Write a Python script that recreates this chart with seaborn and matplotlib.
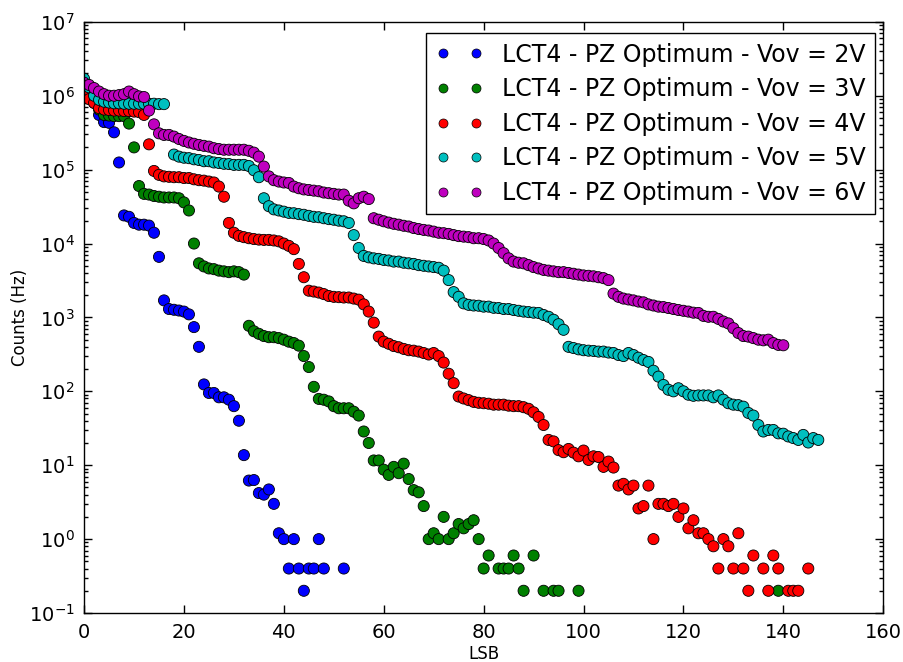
import numpy as np
import pandas as pd
import seaborn as sns
import matplotlib.pyplot as plt
from matplotlib.lines import Line2D

# counts (Hz) per LSB threshold, index = LSB; None = no count recorded
counts_2v = [1.2e6, 1.0e6, 8.0e5, 5.5e5, 4.4e5, 4.3e5, 3.2e5, 1.25e5, 2.4e4, 2.3e4,
             1.9e4, 1.8e4, 1.8e4, 1.75e4, 1.4e4, 6.6e3, 1.7e3, 1.3e3, 1.27e3, 1.24e3,
             1.2e3, 1.1e3, 740, 400, 124, 95, 95, 83, 83, 77,
             63, 40, 13.7, 6.2, 6.3, 4.2, 4.0, 4.7, 3.0, 1.2,
             1.0, 0.4, 1.0, 0.4, 0.2, 0.4, 0.4, 1.0, 0.4]
tail_lsb_2v = [52]
tail_counts_2v = [0.4]

counts_3v = [1.2e6, 1.0e6, 8.5e5, 6.5e5, 5.5e5, 5.4e5, 5.3e5, 5.3e5, 5.3e5, 4.2e5,
             2.0e5, 6.0e4, 4.7e4, 4.6e4, 4.4e4, 4.3e4, 4.2e4, 4.2e4, 4.2e4, 4.1e4,
             3.6e4, 2.8e4, 1.0e4, 5.4e3, 4.9e3, 4.6e3, 4.5e3, 4.3e3, 4.2e3, 4.1e3,
             4.2e3, 4.1e3, 3.8e3, 770, 650, 600, 560, 540, 540, 525,
             500, 470, 450, 415, 300, 213, 115, 79, 77, 73,
             63, 59, 59, 59, 53, 47, 28.6, 20, 11.6, 11.6,
             8.7, 7.4, 9.5, 7.8, 10.5, 6.5, 4.6, 4.3, 2.8, 1.0,
             1.2, 1.0, 2.0, 1.0, 1.2, 1.6, 1.4, 1.6, 1.8, 1.0,
             0.4, 0.6]
tail_lsb_3v = [83, 84, 85, 86, 87, 88, 90, 92, 94, 95, 99, 139]
tail_counts_3v = [0.4, 0.4, 0.4, 0.6, 0.4, 0.2, 0.6, 0.2, 0.2, 0.2, 0.2, 0.2]

counts_4v = [1.05e6, 9.0e5, 8.0e5, 6.8e5, 6.5e5, 6.4e5, 6.3e5, 6.3e5, 6.2e5, 6.2e5,
             6.1e5, 6.0e5, 5.5e5, 2.2e5, 9.6e4, 8.5e4, 8.1e4, 8.0e4, 7.9e4, 7.9e4,
             7.7e4, 7.7e4, 7.4e4, 7.2e4, 7.1e4, 6.9e4, 6.7e4, 5.9e4, 4.3e4, 1.9e4,
             1.4e4, 1.27e4, 1.22e4, 1.18e4, 1.15e4, 1.13e4, 1.12e4, 1.12e4, 1.1e4, 1.07e4,
             1.0e4, 9.3e3, 8.4e3, 5.3e3, 3.5e3, 2.3e3, 2.24e3, 2.17e3, 2.07e3, 1.95e3,
             1.9e3, 1.88e3, 1.86e3, 1.86e3, 1.8e3, 1.74e3, 1.5e3, 1.2e3, 850, 550,
             470, 440, 410, 395, 375, 360, 355, 345, 330, 315,
             330, 300, 245, 173, 129, 85, 80, 76, 72, 70,
             69, 68, 66, 66, 66, 64, 63, 63, 61, 58,
             52, 45, 35, 22, 21, 16, 15, 16.6, 14.8, 13.2,
             15.8, 11.8, 13.2, 12.9, 9.5, 11.2, 9.3, 5.3, 5.6, 4.7,
             5.3, 2.6, 2.8, 5.3, 1.0, 3.0, 3.0, 2.8, 3.0, 2.0,
             2.6, 1.4, 1.8, 1.2, 1.2, 1.0, 0.8, 0.4, 1.0, 0.8,
             0.4, 1.2, 0.4, 0.2, 0.6]
tail_lsb_4v = [136, 137, 138, 139, 141, 142, 143, 145]
tail_counts_4v = [0.4, 0.2, 0.6, 0.4, 0.2, 0.2, 0.2, 0.4]

counts_5v = [1.7e6, 1.3e6, 1.0e6, 8.8e5, 8.3e5, 8.1e5, 7.9e5, 7.9e5, 7.8e5, 7.8e5,
             7.8e5, 7.8e5, 7.8e5, 7.8e5, 7.8e5, 7.7e5, 7.7e5, None, 1.6e5, 1.5e5,
             1.45e5, 1.43e5, 1.38e5, 1.35e5, 1.3e5, 1.3e5, 1.25e5, 1.23e5, 1.2e5, 1.19e5,
             1.16e5, 1.16e5, 1.16e5, 1.12e5, 9.8e4, 7.9e4, 4.1e4, 3.2e4, 2.9e4, 2.8e4,
             2.7e4, 2.6e4, 2.57e4, 2.5e4, 2.45e4, 2.37e4, 2.3e4, 2.27e4, 2.2e4, 2.14e4,
             2.1e4, 2.04e4, 2.0e4, 1.9e4, 1.3e4, 8.7e3, 6.8e3, 6.5e3, 6.3e3, 6.2e3,
             6.0e3, 5.9e3, 5.7e3, 5.7e3, 5.5e3, 5.4e3, 5.3e3, 5.1e3, 5.0e3, 4.9e3,
             4.8e3, 4.7e3, 4.3e3, 3.2e3, 2.2e3, 1.9e3, 1.55e3, 1.48e3, 1.45e3, 1.44e3,
             1.4e3, 1.4e3, 1.35e3, 1.34e3, 1.3e3, 1.3e3, 1.26e3, 1.23e3, 1.2e3, 1.18e3,
             1.16e3, 1.15e3, 1.08e3, 1.02e3, 930, 810, 680, 400, 385, 370,
             360, 355, 352, 345, 345, 335, 330, 310, 300, 330,
             310, 285, 265, 250, 190, 158, 122, 105, 100, 110,
             100, 90, 87, 88, 88, 88, 83, 88, 77, 69,
             66, 65, 62, 51, 47, 35, 28.6, 30, 30, 27,
             26.7, 24.5, 23.3, 22, 25.7, 20.3, 23.3, 22]

counts_6v = [1.5e6, 1.4e6, 1.27e6, 1.14e6, 1.05e6, 1.0e6, 1.0e6, 1.02e6, 1.05e6, 1.14e6,
             1.05e6, 9.8e5, 9.6e5, 6.3e5, 4.1e5, 3.1e5, 2.95e5, 2.95e5, 2.8e5, 2.6e5,
             2.45e5, 2.33e5, 2.24e5, 2.16e5, 2.1e5, 2.05e5, 1.95e5, 1.9e5, 1.86e5, 1.86e5,
             1.86e5, 1.86e5, 1.86e5, 1.8e5, 1.7e5, 1.5e5, 1.1e5, 8.1e4, 7.2e4, 6.9e4,
             6.7e4, 6.6e4, 5.9e4, 5.6e4, 5.4e4, 5.3e4, 5.2e4, 5.1e4, 4.9e4, 4.8e4,
             4.7e4, 4.6e4, 4.6e4, 3.8e4, 3.5e4, 4.1e4, 4.3e4, 4.0e4, 2.2e4, 2.1e4,
             2.0e4, 1.92e4, 1.85e4, 1.8e4, 1.74e4, 1.7e4, 1.62e4, 1.57e4, 1.53e4, 1.5e4,
             1.45e4, 1.4e4, 1.38e4, 1.35e4, 1.3e4, 1.26e4, 1.24e4, 1.22e4, 1.18e4, 1.18e4,
             1.15e4, 1.1e4, 1.0e4, 8.7e3, 7.4e3, 6.3e3, 5.7e3, 5.5e3, 5.4e3, 5.1e3,
             4.8e3, 4.6e3, 4.4e3, 4.3e3, 4.2e3, 4.1e3, 4.1e3, 4.0e3, 3.9e3, 3.8e3,
             3.7e3, 3.66e3, 3.6e3, 3.5e3, 3.4e3, 3.2e3, 2.1e3, 1.9e3, 1.8e3, 1.75e3,
             1.7e3, 1.64e3, 1.6e3, 1.5e3, 1.45e3, 1.4e3, 1.38e3, 1.34e3, 1.3e3, 1.26e3,
             1.23e3, 1.2e3, 1.16e3, 1.15e3, 1.05e3, 1.02e3, 1.02e3, 955, 880, 830,
             715, 615, 560, 550, 525, 500, 490, 500, 450, 425,
             420]

labels = ['LCT4 - PZ Optimum - Vov = 2V', 'LCT4 - PZ Optimum - Vov = 3V',
          'LCT4 - PZ Optimum - Vov = 4V', 'LCT4 - PZ Optimum - Vov = 5V',
          'LCT4 - PZ Optimum - Vov = 6V']
colors = ['#0000ff', '#008000', '#ff0000', '#00bfbf', '#bf00bf']

series = [(counts_2v, tail_lsb_2v, tail_counts_2v),
          (counts_3v, tail_lsb_3v, tail_counts_3v),
          (counts_4v, tail_lsb_4v, tail_counts_4v),
          (counts_5v, [], []),
          (counts_6v, [], [])]

frames = []
for lab, (cnt, tl, tc) in zip(labels, series):
    d = pd.DataFrame({'LSB': list(range(len(cnt))) + tl,
                      'Counts': [np.nan if c is None else c for c in cnt] + tc})
    d['serie'] = lab
    frames.append(d)
df = pd.concat(frames, ignore_index=True).dropna()

sns.set_style('ticks')
plt.rcParams['font.family'] = ['DejaVu Sans']
plt.rcParams['text.color'] = 'black'
plt.rcParams['axes.labelcolor'] = 'black'
plt.rcParams['xtick.color'] = 'black'
plt.rcParams['ytick.color'] = 'black'

fig = plt.figure(figsize=(9.04, 6.62), dpi=100)
ax = fig.add_axes([0.093, 0.074, 0.884, 0.893])

sns.scatterplot(data=df, x='LSB', y='Counts', hue='serie', palette=colors,
                s=64, edgecolor='black', linewidth=0.6, legend=False, ax=ax)

ax.set_yscale('log')
ax.set_xlim(0, 160)
ax.set_ylim(0.1, 1e7)
ax.set_xticks(range(0, 161, 20))
ax.set_xlabel('LSB', fontsize=12, labelpad=2)
ax.set_ylabel('Counts (Hz)', fontsize=12, labelpad=0)
ax.tick_params(which='both', direction='in', top=True, right=True, labelsize=14)
ax.tick_params(which='major', length=6, width=1, pad=7)
ax.tick_params(which='minor', length=3, width=1)
for sp in ax.spines.values():
    sp.set_linewidth(1)
    sp.set_color('black')

handles = [Line2D([], [], ls='', marker='o', color=c, mec='black', mew=0.5, ms=6.5)
           for c in colors]
leg = ax.legend(handles, labels, loc='upper right', numpoints=2, fontsize=17,
                handlelength=2, labelspacing=0.45, borderaxespad=0,
                bbox_to_anchor=(0.968, 0.950), bbox_transform=fig.transFigure,
                fancybox=False, framealpha=1, edgecolor='black')
leg.get_frame().set_linewidth(1)

fig.savefig('out.png', dpi=100)
